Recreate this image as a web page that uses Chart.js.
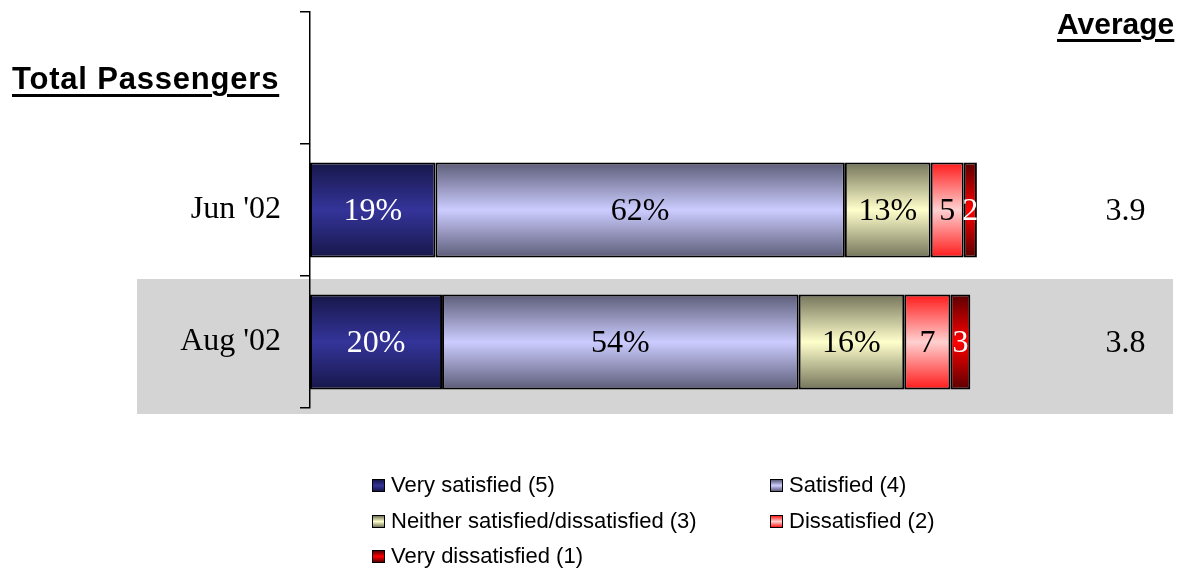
<!DOCTYPE html>
<html>
<head>
<meta charset="utf-8">
<script src="https://cdn.jsdelivr.net/npm/chart.js@4/dist/chart.umd.min.js"></script>
<style>
    body { margin: 0; background: #fff; }
    #wrap { position: relative; width: 1191px; height: 571px; overflow: hidden; font-family: "Liberation Sans", Arial, sans-serif; }
    canvas { position: absolute; left: 0; top: 0; }
    .hdr { position: absolute; font-weight: bold; font-size: 30px; text-decoration: underline; text-decoration-thickness: 3px; text-underline-offset: 5px; color: #000; line-height: 1; }
    #legend { position: absolute; left: 0; top: 0; width: 1191px; height: 571px; pointer-events: none; }
    .item { position: absolute; font-size: 22px; color: #000; line-height: 24px; white-space: nowrap; }
    .box { display: inline-block; width: 11px; height: 11px; border: 1.5px solid #000; margin-right: 6px; vertical-align: 0px; }
</style>
</head>
<body>
<div id="wrap">
    <canvas id="chart" width="1191" height="571"></canvas>
    <div class="hdr" style="left:12px;top:63px;font-size:31px;letter-spacing:0.8px;">Total Passengers</div>
    <div class="hdr" style="left:1057px;top:9px;">Average</div>
    <div id="legend"></div>
</div>
<script>
const categories = ['', "Jun '02", "Aug '02"];
const seriesNames = ['Very satisfied (5)', 'Satisfied (4)', 'Neither satisfied/dissatisfied (3)', 'Dissatisfied (2)', 'Very dissatisfied (1)'];
const verySatisfied = [null, 19, 20];
const satisfied = [null, 62, 54];
const neither = [null, 13, 16];
const dissatisfied = [null, 5, 7];
const veryDissatisfied = [null, 2, 3];
const averages = [null, '3.9', '3.8'];
const labelSuffix = ['%', '%', '%', '', ''];
const labelColors = ['#fff', '#000', '#000', '#000', '#fff'];

// edge colour, centre colour of each bar's vertical gradient
const fills = [
    ['#17174a', '#34349a'],
    ['#5c5c78', '#ccccff'],
    ['#74745a', '#ffffcc'],
    ['#ff1a1a', '#ffd0d0'],
    ['#5a0000', '#ff0000']
];
const barPct = 0.72;
const serif = '"Liberation Serif", "Times New Roman", serif';

function barFill(pair) {
    return function (ctx) {
        const chart = ctx.chart;
        const y = chart.scales.y;
        if (!chart.chartArea || !y) return pair[1];
        const c = y.getPixelForValue(ctx.dataIndex);
        const step = Math.abs(y.getPixelForValue(1) - y.getPixelForValue(0));
        const h = step * barPct / 2;
        const g = chart.ctx.createLinearGradient(0, c - h, 0, c + h);
        g.addColorStop(0, pair[0]);
        g.addColorStop(0.5, pair[1]);
        g.addColorStop(1, pair[0]);
        return g;
    };
}

const highlightBand = {
    id: 'highlightBand',
    beforeDraw(chart) {
        const y = chart.scales.y;
        const c = y.getPixelForValue(2);
        const half = Math.abs(y.getPixelForValue(2) - y.getPixelForValue(1)) / 2;
        const ctx = chart.ctx;
        ctx.save();
        ctx.fillStyle = '#d4d4d4';
        ctx.fillRect(137, c - half + 3, 1173 - 137, 2 * half + 3);
        ctx.restore();
    }
};

const barLabels = {
    id: 'barLabels',
    afterDatasetsDraw(chart) {
        const ctx = chart.ctx;
        const x = chart.scales.x;
        const y = chart.scales.y;
        ctx.save();
        ctx.font = '32px ' + serif;
        ctx.textAlign = 'center';
        ctx.textBaseline = 'middle';
        chart.data.datasets.forEach((ds, di) => {
            chart.getDatasetMeta(di).data.forEach((el, i) => {
                if (ds.data[i] == null) return;
                ctx.fillStyle = labelColors[di];
                ctx.fillText(ds.data[i] + labelSuffix[di], (el.x + el.base) / 2, el.y + 2);
            });
        });
        ctx.fillStyle = '#000';
        averages.forEach((a, i) => {
            if (a == null) return;
            ctx.fillText(a, x.getPixelForValue(123.5), y.getPixelForValue(i) + 2);
        });
        ctx.restore();
    }
};

const seriesData = [verySatisfied, satisfied, neither, dissatisfied, veryDissatisfied];

new Chart(document.getElementById('chart'), {
    type: 'bar',
    data: {
        labels: categories,
        datasets: seriesData.map((d, i) => ({
            label: seriesNames[i],
            data: d,
            backgroundColor: barFill(fills[i]),
            borderColor: '#000',
            borderWidth: 2,
            borderSkipped: false,
            barPercentage: barPct,
            categoryPercentage: 1
        }))
    },
    options: {
        indexAxis: 'y',
        responsive: false,
        animation: false,
        layout: { padding: { top: 12, bottom: 163, left: 0, right: 16 } },
        plugins: { legend: { display: false }, tooltip: { enabled: false } },
        scales: {
            x: { stacked: true, display: false, min: 0, max: 131 },
            y: {
                stacked: true,
                afterFit(scale) {
                    scale.width = 310;
                    scale.paddingTop = 0;
                    scale.paddingBottom = 0;
                },
                border: { display: true, color: '#000', width: 1.5 },
                grid: { drawOnChartArea: false, drawTicks: true, tickLength: 10, color: '#000', lineWidth: 1.5 },
                ticks: { color: '#000', padding: 19, font: { family: serif, size: 32 } }
            }
        }
    },
    plugins: [highlightBand, barLabels]
});

// legend in two columns, as in the original
const legendPos = [[372, 473], [770, 473], [372, 509], [770, 509], [372, 544]];
const legend = document.getElementById('legend');
seriesNames.forEach((name, i) => {
    const item = document.createElement('div');
    item.className = 'item';
    item.style.left = legendPos[i][0] + 'px';
    item.style.top = legendPos[i][1] + 'px';
    const box = document.createElement('span');
    box.className = 'box';
    box.style.background = `linear-gradient(${fills[i][0]}, ${fills[i][1]}, ${fills[i][0]})`;
    item.appendChild(box);
    item.appendChild(document.createTextNode(name));
    legend.appendChild(item);
});
</script>
</body>
</html>
